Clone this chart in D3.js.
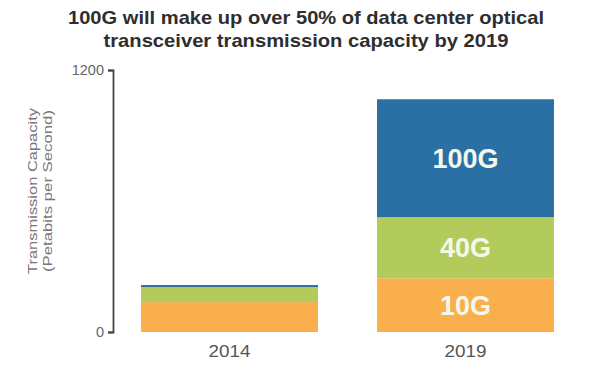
<!DOCTYPE html>
<html><head><meta charset="utf-8">
<script src="https://cdn.jsdelivr.net/npm/d3@7"></script>
<style>body{margin:0;background:#fff;}svg{display:block;}</style>
</head><body>
<svg id="c" width="611" height="369"></svg>
<script>
const categories = ["2014", "2019"];
const seriesNames = ["10G", "40G", "100G"];
const values10G = [137, 246];
const values40G = [69, 280];
const values100G = [9, 540];
const yTicks = [0, 1200];
const colors = ["#f9b04c", "#b3cb5b", "#2b70a4"];
const FONT = "Liberation Sans, Arial, sans-serif";

const svg = d3.select("#c");
const x = d3.scaleBand().domain(categories).range([112, 583]).paddingInner(0.25).paddingOuter(0.123);
const y = d3.scaleLinear().domain([0, 1200]).range([332, 70]);

const rows = categories.map((c, i) => ({cat: c, "10G": values10G[i], "40G": values40G[i], "100G": values100G[i]}));
const stacked = d3.stack().keys(seriesNames)(rows);

svg.append("g").selectAll("g").data(stacked).join("g")
  .attr("fill", (d, i) => colors[i])
  .selectAll("rect").data(d => d).join("rect")
  .attr("x", d => x(d.data.cat))
  .attr("width", x.bandwidth())
  .attr("y", d => y(d[1]))
  .attr("height", d => y(d[0]) - y(d[1]));

// labels in 2019 bar
const lastIdx = 1;
svg.append("g").selectAll("text").data(stacked).join("text")
  .attr("x", d => x(d[lastIdx].data.cat) + x.bandwidth() / 2)
  .attr("y", d => (y(d[lastIdx][0]) + y(d[lastIdx][1])) / 2)
  .attr("dy", "0.36em")
  .attr("text-anchor", "middle")
  .attr("fill", "#f4f8ec")
  .attr("font-family", FONT)
  .attr("font-weight", "bold")
  .attr("font-size", 27)
  .text(d => d.key);

// y axis
const yAxis = svg.append("g").attr("transform", "translate(113,0)")
  .call(d3.axisLeft(y).tickValues(yTicks).tickSize(5).tickPadding(4).tickFormat(d3.format("d")));
yAxis.select(".domain").attr("stroke", "#444").attr("stroke-width", 1.8);
yAxis.selectAll(".tick line").attr("stroke", "#444").attr("stroke-width", 1.8);
yAxis.selectAll("text").attr("fill", "#666").attr("font-size", 14.5).attr("font-family", FONT);

// x axis labels (no line)
const xAxis = svg.append("g").attr("transform", "translate(0,339)")
  .call(d3.axisBottom(x).tickSize(0).tickPadding(6));
xAxis.select(".domain").remove();
xAxis.selectAll("text").attr("fill", "#555").attr("font-size", 16.5).attr("font-family", FONT)
  .attr("textLength", 42).attr("lengthAdjust", "spacingAndGlyphs");

// y label
const yl = svg.append("text").attr("transform", "translate(0,191) rotate(-90)")
  .attr("text-anchor", "middle").attr("fill", "#777")
  .attr("font-family", FONT).attr("font-size", 13.5);
yl.append("tspan").attr("x", 0).attr("y", 37).attr("textLength", 166).attr("lengthAdjust", "spacingAndGlyphs").text("Transmission Capacity");
yl.append("tspan").attr("x", 0).attr("y", 52).attr("textLength", 162).attr("lengthAdjust", "spacingAndGlyphs").text("(Petabits per Second)");

// title
const t = svg.append("text").attr("text-anchor", "middle").attr("fill", "#2e2e2e")
  .attr("font-family", FONT).attr("font-weight", "bold").attr("font-size", 19);
t.append("tspan").attr("x", 306).attr("y", 24).attr("textLength", 476).attr("lengthAdjust", "spacingAndGlyphs").text("100G will make up over 50% of data center optical");
t.append("tspan").attr("x", 306).attr("y", 47).attr("textLength", 405).attr("lengthAdjust", "spacingAndGlyphs").text("transceiver transmission capacity by 2019");
</script>
</body></html>
